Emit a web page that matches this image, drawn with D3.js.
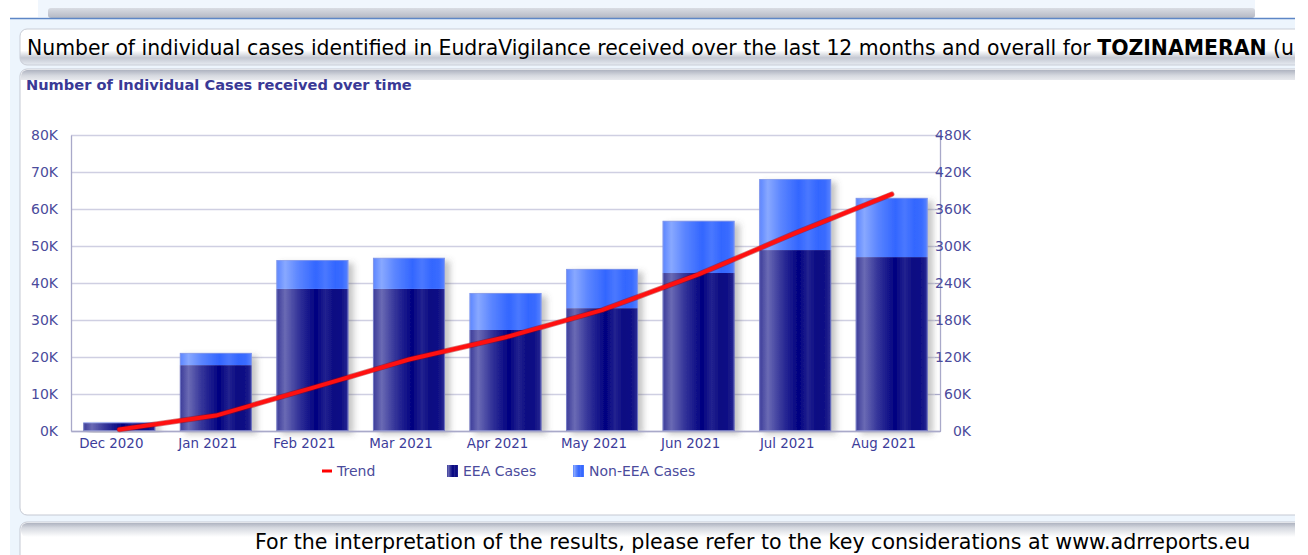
<!DOCTYPE html>
<html>
<head>
<meta charset="utf-8">
<script src="https://cdn.jsdelivr.net/npm/d3@7"></script>
<style>
  body { margin: 0; background: #fff; }
  svg { display: block; font-family: "DejaVu Sans", Verdana, sans-serif; }
</style>
</head>
<body>
<div id="chart"></div>
<script>
// data (thousands of cases)
var months = ["Dec 2020", "Jan 2021", "Feb 2021", "Mar 2021", "Apr 2021", "May 2021", "Jun 2021", "Jul 2021", "Aug 2021"];
var eeaCases = [2.2, 17.8, 38.4, 38.4, 27.3, 33.2, 42.7, 48.9, 47.0];
var nonEeaCases = [0.1, 3.3, 7.8, 8.4, 10.0, 10.6, 14.1, 19.2, 16.0];
var trendValues = [2.5, 25, 70, 116, 152, 196, 254, 321, 384];
var leftTicks = [0, 10, 20, 30, 40, 50, 60, 70, 80];
var rightTicks = [0, 60, 120, 180, 240, 300, 360, 420, 480];

var svgWidth = 1308;
var svgHeight = 555;

var plot = { left: 71, right: 940, top: 135, bottom: 431 };

var svg = d3.select("#chart")
    .append("svg")
    .attr("width", svgWidth)
    .attr("height", svgHeight);

var defs = svg.append("defs");

function hGradient(id, stops) {
    var g = defs.append("linearGradient").attr("id", id)
        .attr("x1", "0%").attr("x2", "100%").attr("y1", "0%").attr("y2", "0%");
    stops.forEach(function(s) {
        g.append("stop").attr("offset", s[0]).attr("stop-color", s[1]);
    });
}
function vGradient(id, stops) {
    var g = defs.append("linearGradient").attr("id", id)
        .attr("x1", "0%").attr("x2", "0%").attr("y1", "0%").attr("y2", "100%");
    stops.forEach(function(s) {
        g.append("stop").attr("offset", s[0]).attr("stop-color", s[1]);
    });
}

hGradient("eeaGrad", [[0, "#3a3a98"], [0.12, "#6a6ab4"], [0.3, "#36369a"], [0.55, "#000080"],
    [0.68, "#22228f"], [0.8, "#0b0b82"], [0.92, "#121286"], [1, "#2c2c94"]]);
hGradient("nonGrad", [[0, "#5a84ff"], [0.12, "#88a8ff"], [0.3, "#5c86ff"], [0.55, "#3366ff"],
    [0.68, "#4a78ff"], [0.82, "#3366ff"], [0.92, "#3a6cff"], [1, "#5a84ff"]]);
vGradient("panelTop", [[0, "#aeb3c0"], [0.35, "#d6d9e0"], [1, "#ffffff"]]);
vGradient("headShadow", [[0, "#ffffff"], [0.6, "#ffffff"], [0.8, "#c4c8d2"], [1, "#e6ebf2"]]);
vGradient("stripBar", [[0, "#d9dce3"], [1, "#b4b8c4"]]);

var shadow = defs.append("filter").attr("id", "barShadow")
    .attr("x", "-20%").attr("y", "-10%").attr("width", "150%").attr("height", "130%");
shadow.append("feDropShadow").attr("dx", 5).attr("dy", 3).attr("stdDeviation", 3)
    .attr("flood-color", "#555").attr("flood-opacity", 0.35);

// page furniture
svg.append("rect").attr("x", 38).attr("y", 0).attr("width", 1217).attr("height", 17).attr("fill", "#f0f6fd");
svg.append("rect").attr("x", 48).attr("y", 8).attr("width", 1207).attr("height", 10).attr("rx", 3).attr("fill", "url(#stripBar)");
svg.append("rect").attr("x", 10).attr("y", 18).attr("width", 1285).attr("height", 537).attr("fill", "#edf5fd");
svg.append("line").attr("x1", 10).attr("x2", 1295).attr("y1", 18.5).attr("y2", 18.5).attr("stroke", "#5d86c6").attr("stroke-width", 1.5);

// header box
svg.append("rect").attr("x", 20).attr("y", 29).attr("width", 1290).attr("height", 36).attr("rx", 7)
    .attr("fill", "url(#headShadow)").attr("stroke", "#c9cdd6");
svg.append("text").attr("x", 27).attr("y", 55)
    .style("font-size", "20.4px").attr("fill", "#000")
    .html("Number of individual cases identified in EudraVigilance received over the last 12 months and overall for <tspan font-weight='bold'>TOZINAMERAN</tspan> (u");

// chart panel
svg.append("rect").attr("x", 20).attr("y", 69).attr("width", 1290).attr("height", 446).attr("rx", 7)
    .attr("fill", "#fff").attr("stroke", "#c5c9d3");
svg.append("rect").attr("x", 21).attr("y", 70).attr("width", 1288).attr("height", 16).attr("rx", 6)
    .attr("fill", "url(#panelTop)");
svg.append("rect").attr("x", 21).attr("y", 80).attr("width", 1288).attr("height", 20).attr("fill", "#fff");
svg.append("text").attr("x", 26).attr("y", 90)
    .style("font-size", "14.6px").style("font-weight", "bold").attr("fill", "#3a3a96")
    .text("Number of Individual Cases received over time");

// bottom panel
svg.append("rect").attr("x", 20).attr("y", 522).attr("width", 1290).attr("height", 50).attr("rx", 7)
    .attr("fill", "#fff").attr("stroke", "#c5c9d3");
svg.append("rect").attr("x", 21).attr("y", 523).attr("width", 1288).attr("height", 14).attr("rx", 6)
    .attr("fill", "url(#panelTop)");
svg.append("text").attr("x", 255).attr("y", 549)
    .style("font-size", "20.6px").attr("fill", "#000")
    .text("For the interpretation of the results, please refer to the key considerations at www.adrreports.eu");

// clip everything past the page edge
svg.append("rect").attr("x", 1295).attr("y", 0).attr("width", 13).attr("height", svgHeight).attr("fill", "#fff");

// scales
var xScale = d3.scaleBand()
    .domain(months)
    .range([plot.left, plot.right])
    .paddingInner(0.255)
    .paddingOuter(0.1275);

var yLeft = d3.scaleLinear().domain([0, 80]).range([plot.bottom, plot.top]);
var yRight = d3.scaleLinear().domain([0, 480]).range([plot.bottom, plot.top]);

var chartGroup = svg.append("g");

// grid
chartGroup.append("g")
    .attr("transform", `translate(${plot.left}, 0)`)
    .call(d3.axisLeft(yLeft).tickValues(leftTicks).tickSize(-(plot.right - plot.left)).tickFormat(""))
    .call(g => g.select(".domain").remove())
    .selectAll("line").attr("stroke", "#cfcfe2").attr("stroke-width", 1.3);

// bars
var stacked = months.map(function(m, i) {
    return { month: m, eea: eeaCases[i], non: nonEeaCases[i] };
});

var barGroups = chartGroup.selectAll(".bar")
    .data(stacked)
    .enter()
    .append("g")
    .attr("class", "bar")
    .attr("filter", "url(#barShadow)");

barGroups.append("rect")
    .attr("x", d => xScale(d.month))
    .attr("width", xScale.bandwidth())
    .attr("y", d => yLeft(d.eea))
    .attr("height", d => yLeft(0) - yLeft(d.eea))
    .attr("fill", "url(#eeaGrad)");

barGroups.append("rect")
    .attr("x", d => xScale(d.month))
    .attr("width", xScale.bandwidth())
    .attr("y", d => yLeft(d.eea + d.non))
    .attr("height", d => yLeft(d.eea) - yLeft(d.eea + d.non))
    .attr("fill", "url(#nonGrad)");

barGroups.append("rect")
    .attr("x", d => xScale(d.month) + 0.5)
    .attr("width", xScale.bandwidth() - 1)
    .attr("y", d => yLeft(d.eea + d.non) + 0.5)
    .attr("height", d => yLeft(0) - yLeft(d.eea + d.non) - 1)
    .attr("fill", "none")
    .attr("stroke", "#9aa4e0")
    .attr("stroke-opacity", 0.6);

// axes
function styleAxis(g) {
    g.attr("font-family", null).attr("font-size", null);
    g.select(".domain").attr("stroke", "#a9a9c9").attr("stroke-width", 1.3);
    g.selectAll("text").style("font-size", "14px").attr("fill", "#4b4b9c");
}

var leftAxis = chartGroup.append("g")
    .attr("transform", `translate(${plot.left}, 0)`)
    .call(d3.axisLeft(yLeft).tickValues(leftTicks).tickSize(0).tickPadding(13).tickFormat(d => d + "K"))
    .call(styleAxis);

var rightAxis = chartGroup.append("g")
    .attr("transform", `translate(${plot.right}, 0)`)
    .call(d3.axisRight(yRight).tickValues(rightTicks).tickSizeOuter(0).tickFormat(d => d + "K"))
    .call(styleAxis);
rightAxis.selectAll(".tick line").attr("x1", -5).attr("x2", 1).attr("stroke", "#a9a9c9");
rightAxis.selectAll("text").attr("x", 31).attr("text-anchor", "end");

var bottomAxis = chartGroup.append("g")
    .attr("transform", `translate(0, ${plot.bottom})`)
    .call(d3.axisBottom(xScale).tickSize(0).tickPadding(7).tickSizeOuter(0))
    .call(styleAxis);
// labels sit a little left of the bar centres in the original
bottomAxis.selectAll("text").attr("x", -8).style("font-size", "13.4px").attr("fill", "#3c3c9a");

// trend line (right axis)
var trendLine = d3.line()
    .x((d, i) => xScale(months[i]) + xScale.bandwidth() / 2)
    .y(d => yRight(d));

chartGroup.append("path")
    .datum(trendValues)
    .attr("d", trendLine)
    .attr("fill", "none")
    .attr("stroke", "#b00000")
    .attr("stroke-width", 5.5)
    .attr("stroke-opacity", 0.5)
    .attr("stroke-linecap", "round")
    .attr("stroke-linejoin", "round");
chartGroup.append("path")
    .datum(trendValues)
    .attr("d", trendLine)
    .attr("fill", "none")
    .attr("stroke", "#ff1010")
    .attr("stroke-width", 4)
    .attr("stroke-linecap", "round")
    .attr("stroke-linejoin", "round");

// legend
var legendItems = [
    { label: "Trend", x: 322, kind: "line" },
    { label: "EEA Cases", x: 447, kind: "eeaGrad" },
    { label: "Non-EEA Cases", x: 573, kind: "nonGrad" }
];
var legend = svg.append("g").selectAll("g")
    .data(legendItems)
    .enter()
    .append("g")
    .attr("transform", d => `translate(${d.x}, 471)`);

legend.filter(d => d.kind === "line").append("rect")
    .attr("x", 0).attr("y", -1.5).attr("width", 10).attr("height", 3).attr("fill", "#ff0000");
legend.filter(d => d.kind !== "line").append("rect")
    .attr("x", 0).attr("y", -6).attr("width", 11).attr("height", 12)
    .attr("fill", d => `url(#${d.kind})`);
legend.append("text")
    .attr("x", d => d.kind === "line" ? 15 : 16)
    .attr("y", 5)
    .style("font-size", "14px")
    .attr("fill", "#4b4b9c")
    .text(d => d.label);
</script>
</body>
</html>
